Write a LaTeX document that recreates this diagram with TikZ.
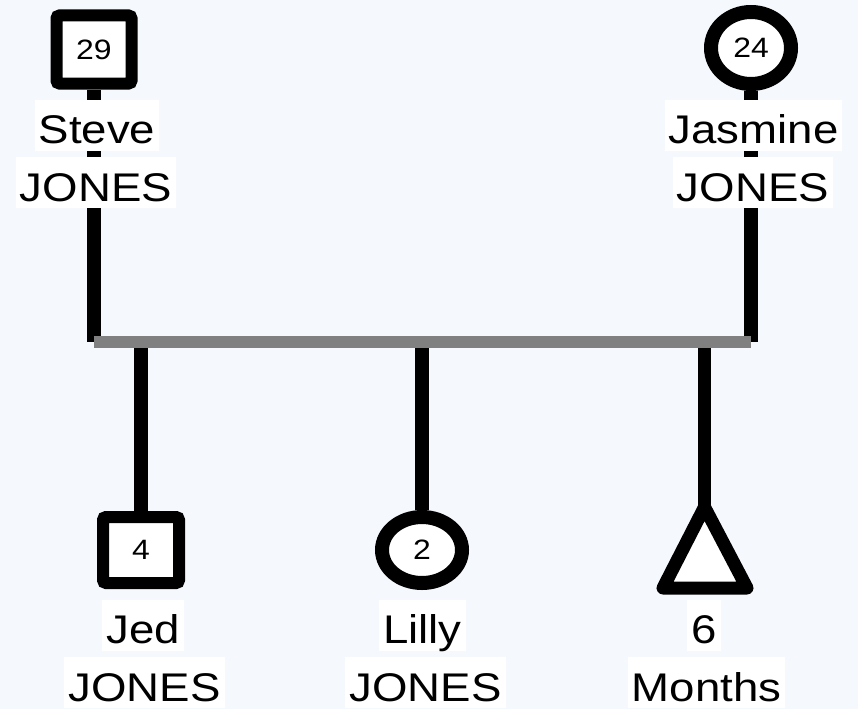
\documentclass[tikz,border=0pt]{standalone}
\usepackage{fontspec}
\setmainfont[FakeStretch=1.14]{Liberation Sans}
\usetikzlibrary{shapes.geometric}
\definecolor{bgc}{RGB}{245,249,253}
\definecolor{bargray}{RGB}{128,128,128}
\begin{document}
\begin{tikzpicture}[x=1pt,y=-1pt,
  lbl/.style={anchor=base, fill=white, inner xsep=4pt, inner ysep=0pt, text height=44pt, text depth=7pt, font=\fontsize{40}{40}\selectfont},
  num/.style={font=\fontsize{28}{28}\selectfont},
  sq/.style={draw=black, fill=white, line width=12pt, rounded corners=3pt, inner sep=0pt, minimum width=75pt, minimum height=68pt, num},
  circ/.style={ellipse, draw=black, fill=white, line width=14pt, inner sep=0pt, minimum width=80pt, minimum height=72pt, num},
  link/.style={line width=13.5pt, draw=black},
  famline/.style={line width=12pt, draw=bargray},
  tri/.style={draw=black, fill=white, line width=13pt, line join=round}]
\fill[bgc] (0,0) rectangle (858,709);
\useasboundingbox (0,0) rectangle (858,709);
% junction points on the family line
\coordinate (barL) at (94,342);
\coordinate (barR) at (751,342);
\coordinate (jedj) at (141,342);
\coordinate (lillyj) at (422,342);
\coordinate (babyj) at (704.5,342);
% links (drawn first, under shapes and labels)
\coordinate (tA) at (704.5,507);
\coordinate (tB) at (663,588);
\coordinate (tC) at (747,588);
\node[sq] (steve) at (94,49.5) {29};
\node[circ] (jasmine) at (751,48) {24};
\node[sq, minimum width=76pt, minimum height=66pt] (jed) at (141,550) {4};
\node[circ, minimum height=66pt] (lilly) at (422,550) {2};
\draw[link] (steve.south) -- (barL);
\draw[link] (jasmine.south) -- (barR);
\draw[link] (jedj) -- (jed.north);
\draw[link] (lillyj) -- (lilly.north);
\draw[link] (babyj) -- (tA);
\draw[famline] (barL) -- (barR);
\draw[tri] (tA) -- (tB) -- (tC) -- cycle;
% labels
\node[lbl] (stevefn) at (97,143.5) {Steve\ };
\node[lbl] (stevesn) at (96,201) {JONES};
\node[lbl] (jasfn) at (753.5,143.5) {Jasmine};
\node[lbl] (jassn) at (753,201) {JONES};
\node[lbl] (jedfn) at (143,643.5) {Jed};
\node[lbl] (jedsn) at (144.5,701) {JONES};
\node[lbl] (lilfn) at (422.5,643.5) {Lilly};
\node[lbl] (lilsn) at (425.5,701) {JONES};
\node[lbl] (babyfn) at (704,643.5) {6};
\node[lbl] (babysn) at (706.5,701) {Months};
\end{tikzpicture}
\end{document}
